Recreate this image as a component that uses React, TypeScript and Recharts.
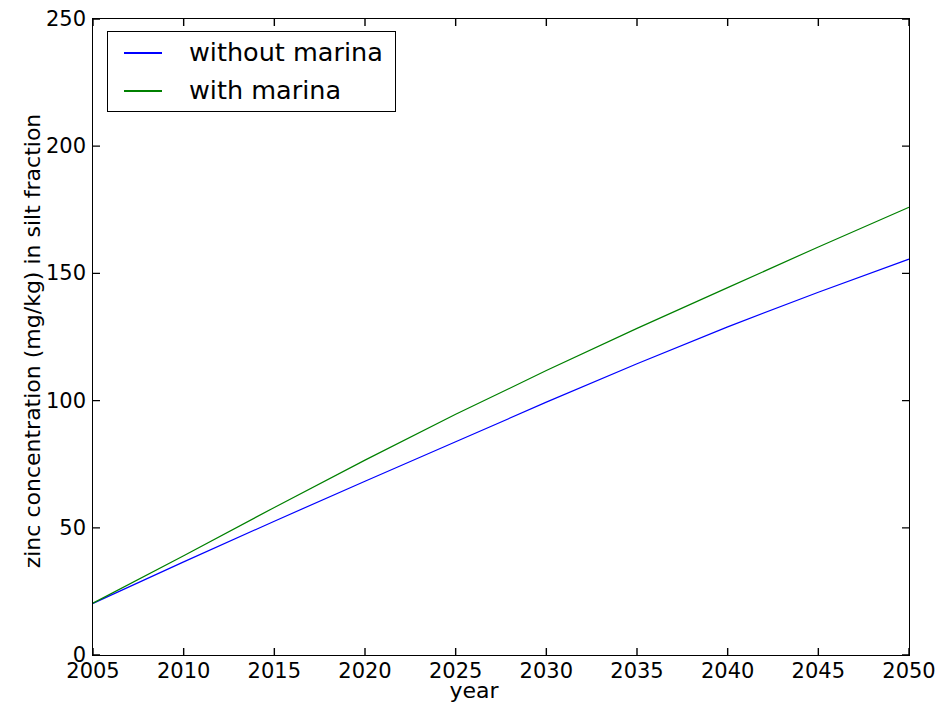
import { ComposedChart, Line, Scatter, XAxis, YAxis, CartesianGrid } from "recharts";

const years = [2005, 2010, 2015, 2020, 2025, 2030, 2035, 2040, 2045, 2050];
const withoutMarina = [20.3, 36.6, 52.6, 68.3, 83.8, 99.4, 114.5, 129.0, 142.6, 155.6];
const withMarina = [20.4, 39.0, 58.0, 76.6, 94.6, 111.8, 128.4, 144.4, 160.4, 176.0];
const xTicks = [2005, 2010, 2015, 2020, 2025, 2030, 2035, 2040, 2045, 2050];
const yTicks = [0, 50, 100, 150, 200, 250];

const data = years.map((year, i) => ({
  year,
  without: withoutMarina[i],
  with: withMarina[i],
}));

// tick anchors on the bottom and top edges of the frame
const yMin = yTicks[0];
const yMax = yTicks[yTicks.length - 1];
const xTickMarks = xTicks.flatMap((t) => [
  { year: t, edge: yMin },
  { year: t, edge: yMax },
]);

const font = "'DejaVu Sans', sans-serif";

// plot box edges
const LEFT = 93;
const RIGHT = 909;
const TOP = 19;
const BOTTOM = 655;
const TICK = 7;

function XTickMark(props: any) {
  const { cx, cy, payload } = props;
  const up = payload.edge === yMin;
  return (
    <rect
      x={cx - 0.7}
      y={up ? cy - TICK : cy}
      width={1.4}
      height={TICK}
      fill="#000"
      stroke="none"
    />
  );
}

function BottomTick(props: any) {
  const { x, payload } = props;
  return (
    <text x={x} y={BOTTOM + 23} textAnchor="middle" fontSize={21} fontFamily={font} fill="#000">
      {payload.value}
    </text>
  );
}

function LeftTick(props: any) {
  const { y, payload } = props;
  return (
    <text x={LEFT - 7} y={y + 7} textAnchor="end" fontSize={21} fontFamily={font} fill="#000">
      {payload.value}
    </text>
  );
}

export default function App() {
  return (
    <div style={{ position: "absolute", left: 0, top: 0, width: 941, height: 707, background: "#fff" }}>
      <ComposedChart
        width={941}
        height={707}
        data={data}
        margin={{ top: TOP, right: 941 - RIGHT, left: 0, bottom: 0 }}
      >
        {/* inward tick marks on left/right: grid lines dashed so only their ends show */}
        <CartesianGrid
          xAxisId="bottom"
          yAxisId="left"
          vertical={false}
          stroke="#000"
          strokeWidth={1.3}
          strokeDasharray={`${TICK} ${RIGHT - LEFT - 2 * TICK}`}
        />
        <XAxis
          dataKey="year"
          type="number"
          domain={[2005, 2050]}
          ticks={xTicks}
          interval={0}
          height={707 - BOTTOM}
          tickLine={false}
          axisLine={false}
          tick={<BottomTick />}
          xAxisId="bottom"
        />
        <YAxis
          type="number"
          domain={[yMin, yMax]}
          ticks={yTicks}
          interval={0}
          width={LEFT}
          tickLine={false}
          axisLine={false}
          tick={<LeftTick />}
          yAxisId="left"
        />
        <Line
          xAxisId="bottom"
          yAxisId="left"
          dataKey="without"
          stroke="#0000ff"
          strokeWidth={1.2}
          dot={false}
          isAnimationActive={false}
        />
        <Line
          xAxisId="bottom"
          yAxisId="left"
          dataKey="with"
          stroke="#008000"
          strokeWidth={1.2}
          dot={false}
          isAnimationActive={false}
        />
        {/* inward tick marks on top/bottom */}
        <Scatter
          xAxisId="bottom"
          yAxisId="left"
          data={xTickMarks}
          dataKey="edge"
          shape={<XTickMark />}
          isAnimationActive={false}
        />
      </ComposedChart>

      {/* frame around the plot area */}
      <div
        style={{
          position: "absolute",
          left: LEFT - 1,
          top: TOP - 1,
          width: RIGHT - LEFT,
          height: BOTTOM - TOP,
          border: "1px solid #000",
          pointerEvents: "none",
        }}
      />

      {/* legend box, matplotlib style */}
      <div
        style={{
          position: "absolute",
          left: 107,
          top: 31,
          width: 287,
          height: 79,
          border: "1px solid #000",
          background: "#fff",
          fontFamily: font,
          fontSize: 25.5,
        }}
      >
        {[
          { label: "without marina", color: "#0000ff", y: 20 },
          { label: "with marina", color: "#008000", y: 58 },
        ].map((item) => (
          <div key={item.label}>
            <div
              style={{
                position: "absolute",
                left: 16,
                top: item.y,
                width: 38,
                height: 1.5,
                background: item.color,
              }}
            />
            <div style={{ position: "absolute", left: 81, top: item.y - 16, lineHeight: "32px", whiteSpace: "nowrap" }}>
              {item.label}
            </div>
          </div>
        ))}
      </div>

      {/* axis titles */}
      <div
        style={{
          position: "absolute",
          left: 32,
          top: 341,
          transform: "translate(-50%, -50%) rotate(-90deg)",
          fontFamily: font,
          fontSize: 22,
          whiteSpace: "nowrap",
        }}
      >
        zinc concentration (mg/kg) in silt fraction
      </div>
      <div
        style={{
          position: "absolute",
          left: 474,
          top: 690,
          transform: "translate(-50%, -50%)",
          fontFamily: font,
          fontSize: 22,
          whiteSpace: "nowrap",
        }}
      >
        year
      </div>
    </div>
  );
}
